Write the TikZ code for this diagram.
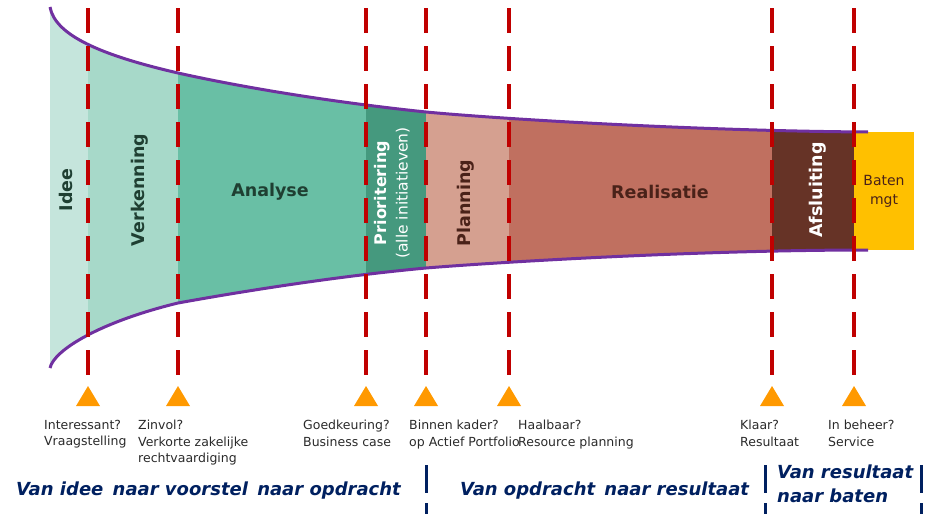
\documentclass[tikz,border=0pt]{standalone}
\usepackage{fontspec}
\setmainfont{DejaVu Sans}
\definecolor{cIdee}{HTML}{C5E5DC}
\definecolor{cVerk}{HTML}{A7D9C9}
\definecolor{cAna}{HTML}{69BFA5}
\definecolor{cPrio}{HTML}{45997E}
\definecolor{cPlan}{HTML}{D5A090}
\definecolor{cReal}{HTML}{C07060}
\definecolor{cAfs}{HTML}{663326}
\definecolor{cBaten}{HTML}{FFC000}
\definecolor{cPurple}{HTML}{7030A0}
\definecolor{cRed}{HTML}{C00000}
\definecolor{cOrange}{HTML}{FF9900}
\definecolor{cNavy}{HTML}{002060}
\definecolor{cGreenTxt}{HTML}{1F3F32}
\definecolor{cBrownTxt}{HTML}{4A2219}
\definecolor{cLabel}{HTML}{2A2A2A}
\begin{document}
\begin{tikzpicture}[x=1pt,y=-1pt,
  phase/.style={font=\fontsize{17.5}{21}\selectfont\bfseries,inner sep=0pt},
  vphase/.style={phase,rotate=90},
  reddash/.style={draw=cRed,line width=3.5pt,dash pattern=on 25pt off 13pt},
  funnelline/.style={draw=cPurple,line width=3pt},
  gate/.style={fill=cOrange},
  gatelabel/.style={anchor=north west,inner sep=0pt,align=left,text=cLabel,font=\fontsize{12.5}{16.5}\selectfont},
  heading/.style={inner sep=0pt,text=cNavy,font=\fontsize{18}{21}\selectfont\bfseries\itshape},
  divider/.style={draw=cNavy,line width=3pt,dash pattern=on 28pt off 10pt}]
\path[use as bounding box] (0,0) rectangle (930,514);

% funnel fill
\begin{scope}
\clip (50,7) .. controls (55,35) and (100,55) .. (178,73)
  .. controls (250,89) and (340,103) .. (426,112)
  .. controls (500,119) and (700,131) .. (868,132)
  -- (868,250)
  .. controls (700,250) and (500,262) .. (426,268)
  .. controls (340,276) and (250,290) .. (178,303)
  .. controls (100,322) and (54,350) .. (50,368) -- cycle;
\fill[cIdee] (40,0) rectangle (88,380);
\fill[cVerk] (88,0) rectangle (178,380);
\fill[cAna] (178,0) rectangle (366,380);
\fill[cPrio] (366,0) rectangle (426,380);
\fill[cPlan] (426,0) rectangle (509,380);
\fill[cReal] (509,0) rectangle (772,380);
\fill[cAfs] (772,0) rectangle (854,380);
\end{scope}

% benefits box
\node[fill=cBaten,minimum width=60pt,minimum height=118pt,inner sep=0pt,
      align=center,text=cBrownTxt,font=\fontsize{14}{19}\selectfont] (baten) at (884,191) {Baten\\mgt};

% funnel outline
\draw[funnelline] (50,7) .. controls (55,35) and (100,55) .. (178,73)
  .. controls (250,89) and (340,103) .. (426,112)
  .. controls (500,119) and (700,131) .. (868,132);
\draw[funnelline] (50,368) .. controls (54,350) and (100,322) .. (178,303)
  .. controls (250,290) and (340,276) .. (426,268)
  .. controls (500,262) and (700,250) .. (868,250);

% gate lines and triangles
\foreach \x in {88,178,366,426,509,772,854} {
  \draw[reddash] (\x,8) -- (\x,377);
  \fill[gate] (\x-12,406) -- (\x+12,406) -- (\x,386) -- cycle;
}

% phase labels
\node[vphase,text=cGreenTxt] (idee) at (66,190) {Idee};
\node[vphase,text=cGreenTxt] (verkenning) at (140,190) {Verkenning};
\node[phase,text=cGreenTxt] (analyse) at (270,192) {Analyse};
\node[rotate=90,inner sep=0pt,align=center,text=white,font=\fontsize{15.5}{21}\selectfont] (prio) at (392,193)
  {{\fontsize{16}{21}\selectfont\bfseries Prioritering}\\(alle initiatieven)};
\node[vphase,text=cBrownTxt] (planning) at (466,203) {Planning};
\node[phase,text=cBrownTxt] (realisatie) at (660,192) {Realisatie};
\node[vphase,text=white] (afsluiting) at (818,190) {Afsluiting};

% gate labels
\node[gatelabel] (g1) at (44,420) {Interessant?\\Vraagstelling};
\node[gatelabel] (g2) at (138,420) {Zinvol?\\Verkorte zakelijke\\rechtvaardiging};
\node[gatelabel] (g3) at (303,420) {Goedkeuring?\\Business case};
\node[gatelabel] (g4) at (409,420) {Binnen kader?\\op Actief Portfolio};
\node[gatelabel] (g5) at (518,420) {Haalbaar?\\Resource planning};
\node[gatelabel] (g6) at (740,420) {Klaar?\\Resultaat};
\node[gatelabel] (g7) at (828,420) {In beheer?\\Service};

% headings
\node[heading,anchor=base west] (h1) at (16,495) {Van idee\, naar voorstel\, naar opdracht};
\node[heading,anchor=base west] (h2) at (460,495) {Van opdracht\, naar resultaat};
\node[heading,anchor=base west] (h3a) at (777,478) {Van resultaat};
\node[heading,anchor=base west] (h3b) at (777,502) {naar baten};

% dividers
\foreach \x in {426,765,921} {
  \draw[divider] (\x,465) -- (\x,516);
}
\end{tikzpicture}
\end{document}
